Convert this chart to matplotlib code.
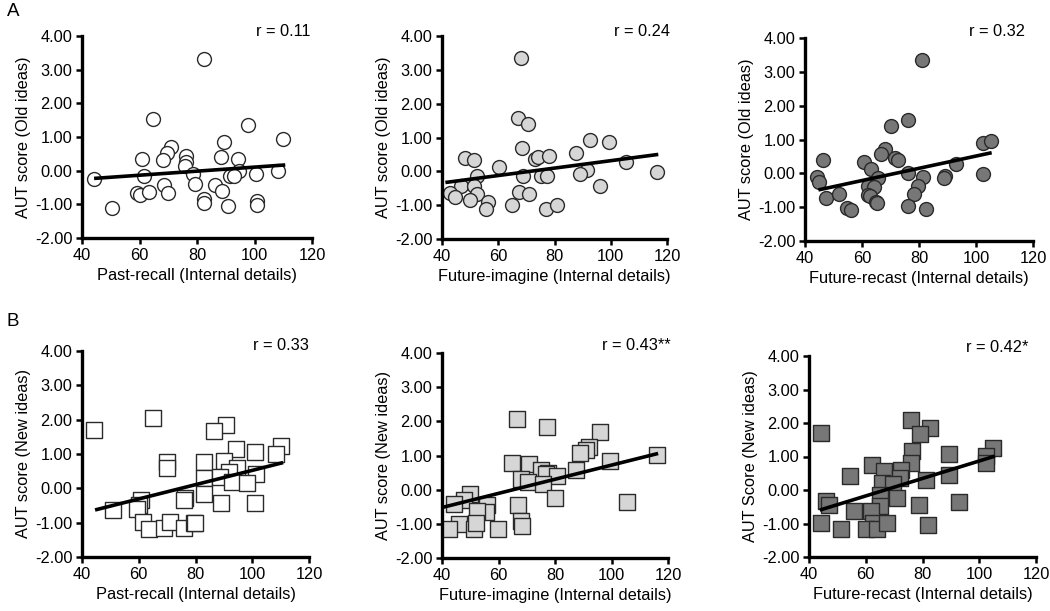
import numpy as np
import matplotlib
matplotlib.use("Agg")
import matplotlib.pyplot as plt

plt.rcParams['font.family'] = ['Liberation Sans', 'DejaVu Sans']
plt.rcParams['axes.unicode_minus'] = False

# ---- Data ----
pr_old_x = [44.2, 50.5, 82.6, 64.7, 97.7, 109.9, 89.5, 70.9, 69.7, 68.1, 60.7, 76.3, 76.0, 75.8,
            88.4, 94.4, 94.7, 61.5, 78.7, 91.5, 92.7, 100.6, 108.0, 68.6, 79.3, 86.2, 59.0, 60.1,
            63.4, 69.8, 88.7, 82.6, 82.6, 90.9, 100.8, 101.0]
pr_old_y = [-0.26, -1.10, 3.31, 1.54, 1.36, 0.93, 0.85, 0.69, 0.53, 0.33, 0.36, 0.45, 0.26, 0.14,
            0.42, 0.36, 0.00, -0.15, -0.11, -0.15, -0.15, -0.09, -0.01, -0.42, -0.41, -0.42, -0.66, -0.73,
            -0.63, -0.67, -0.61, -0.84, -0.97, -1.06, -0.89, -1.03]

fi_old_x = [68.1, 66.9, 70.5, 68.4, 92.6, 99.5, 87.5, 48.2, 51.4, 72.9, 74.3, 77.9, 60.3, 105.5,
            91.4, 116.5, 52.3, 68.7, 75.2, 77.4, 88.9, 46.6, 51.5, 96.0, 43.0, 44.6, 52.6, 50.1,
            67.3, 70.8, 56.4, 55.5, 64.9, 77.0, 80.9]
fi_old_y = [3.36, 1.58, 1.39, 0.68, 0.93, 0.88, 0.55, 0.39, 0.33, 0.37, 0.41, 0.44, 0.13, 0.27,
            0.03, -0.01, -0.13, -0.13, -0.15, -0.15, -0.08, -0.43, -0.43, -0.43, -0.64, -0.76, -0.68, -0.85,
            -0.61, -0.67, -0.92, -1.12, -1.00, -1.10, -1.00]

fr_old_x = [80.9, 76.0, 70.1, 68.1, 66.7, 102.3, 105.1, 46.2, 60.8, 63.0, 71.5, 72.7, 93.0, 76.1,
            102.6, 44.3, 44.8, 65.5, 81.5, 89.1, 88.9, 62.2, 64.3, 79.5, 47.4, 51.8, 62.2, 62.8,
            78.4, 64.9, 65.1, 54.6, 56.1, 76.1, 82.3]
fr_old_y = [3.34, 1.58, 1.39, 0.73, 0.57, 0.89, 0.95, 0.39, 0.34, 0.14, 0.46, 0.39, 0.29, 0.02,
            -0.01, -0.12, -0.27, -0.14, -0.12, -0.08, -0.13, -0.38, -0.40, -0.38, -0.73, -0.60, -0.64, -0.66,
            -0.61, -0.84, -0.89, -1.01, -1.09, -0.97, -1.06]

pr_new_x = [44.4, 65.1, 90.8, 86.4, 94.4, 100.8, 110.1, 108.2, 69.8, 69.8, 82.9, 90.0, 94.5, 91.9,
            83.1, 88.8, 101.3, 92.7, 98.1, 83.1, 76.4, 76.0, 60.8, 60.0, 59.5, 50.9, 88.9, 101.1,
            61.6, 63.5, 68.9, 70.9, 76.1, 79.4, 79.8]
pr_new_y = [1.69, 2.05, 1.84, 1.66, 1.15, 1.05, 1.24, 1.01, 0.76, 0.58, 0.76, 0.81, 0.60, 0.47,
            0.31, 0.34, 0.41, 0.17, 0.16, -0.17, -0.27, -0.35, -0.34, -0.49, -0.60, -0.64, -0.44, -0.43,
            -0.99, -1.17, -1.16, -0.97, -1.16, -1.02, -1.00]

fi_new_x = [66.7, 77.1, 95.9, 92.1, 90.8, 88.8, 116.1, 99.5, 64.8, 70.7, 74.9, 87.5, 77.4, 76.9,
            80.7, 68.1, 70.4, 75.6, 49.8, 47.8, 44.1, 79.9, 66.9, 55.9, 55.5, 52.4, 105.4, 46.1,
            42.5, 51.2, 51.9, 59.8, 68.0, 68.4]
fi_new_y = [2.07, 1.84, 1.69, 1.26, 1.17, 1.08, 1.02, 0.83, 0.77, 0.75, 0.59, 0.59, 0.49, 0.45,
            0.40, 0.31, 0.21, 0.18, -0.13, -0.30, -0.41, -0.25, -0.44, -0.44, -0.66, -0.62, -0.35, -1.00,
            -1.14, -1.14, -0.98, -1.14, -0.92, -1.06]

fr_new_x = [44.1, 75.9, 82.6, 79.2, 76.4, 76.0, 89.2, 104.9, 102.4, 102.4, 62.2, 66.4, 72.5, 72.2,
            54.4, 89.2, 81.2, 65.6, 69.6, 64.9, 71.1, 46.1, 47.1, 64.9, 92.9, 78.6, 55.9, 62.0,
            44.1, 51.4, 62.6, 60.2, 63.8, 67.5, 81.8]
fr_new_y = [1.69, 2.08, 1.84, 1.66, 1.16, 0.80, 1.07, 1.25, 1.01, 0.80, 0.75, 0.58, 0.60, 0.37,
            0.41, 0.44, 0.31, 0.21, 0.19, -0.15, -0.24, -0.34, -0.45, -0.47, -0.37, -0.46, -0.63, -0.63,
            -0.98, -1.17, -0.98, -1.17, -1.17, -0.98, -1.05]

# trend lines as drawn in the reference: x range and y at both ends
trend_x = [[44.2, 110.7], [41.2, 116.9], [44.7, 105.5], [44.6, 110.9], [40.6, 116.5], [43.8, 105.5]]
trend_y = [[-0.23, 0.17], [-0.33, 0.50], [-0.49, 0.61], [-0.63, 0.75], [-0.51, 1.06], [-0.60, 1.01]]

x_labels = ["Past-recall (Internal details)", "Future-imagine (Internal details)",
            "Future-recast (Internal details)"]
y_labels_top = ["AUT score (Old ideas)"] * 3
y_labels_bot = ["AUT score (New ideas)", "AUT score (New ideas)", "AUT Score (New ideas)"]
r_top = ["r = 0.11", "r = 0.24", "r = 0.32"]
r_bot = ["r = 0.33", "r = 0.43**", "r = 0.42*"]
y_ticks = [-2, -1, 0, 1, 2, 3, 4]
x_ticks = [40, 60, 80, 100, 120]

# ---- Layout ----
W, H = 1050, 611
fig = plt.figure(figsize=(W / 100, H / 100), dpi=100)

# pixel boxes: left, right, top, bottom
boxes = [
    (82, 312, 36, 238), (442, 667, 36, 239), (805, 1033, 38, 241),
    (82, 309, 351, 557), (442, 668, 353, 558), (809, 1036, 356, 557),
]
r_pos = [(310, 32), (670, 32), (1025, 32), (309, 345), (671, 345), (1028, 348)]
facecolors = ["white", "#d6d6d6", "#777777"]
datasets = [(pr_old_x, pr_old_y), (fi_old_x, fi_old_y), (fr_old_x, fr_old_y),
            (pr_new_x, pr_new_y), (fi_new_x, fi_new_y), (fr_new_x, fr_new_y)]

for i, (box, (xs, ys)) in enumerate(zip(boxes, datasets)):
    l, r, t, b = box
    ax = fig.add_axes([l / W, 1 - b / H, (r - l) / W, (b - t) / H])
    row, col = divmod(i, 3)
    marker = "o" if row == 0 else "s"
    ax.scatter(xs, ys, s=100 if row == 0 else 125, marker=marker, facecolor=facecolors[col],
               edgecolor="#2a2a2a", linewidth=1.0, zorder=2)
    ax.plot(trend_x[i], trend_y[i], color="black", linewidth=2.6, zorder=3,
            solid_capstyle="butt")

    ax.set_xlim(40, 120)
    ax.set_ylim(-2, 4)
    ax.set_xticks(x_ticks)
    ax.set_yticks(y_ticks)
    ax.set_yticklabels([f"{v:.2f}" for v in y_ticks])
    for s in ("top", "right"):
        ax.spines[s].set_visible(False)
    for s in ("left", "bottom"):
        ax.spines[s].set_linewidth(2.4)
    ax.tick_params(direction="out", length=4, width=1.8, labelsize=11.8, pad=3)
    ax.set_xlabel(x_labels[col], fontsize=11.8, labelpad=4)
    ax.set_ylabel((y_labels_top if row == 0 else y_labels_bot)[col], fontsize=11.8, labelpad=3)
    rx, ry = r_pos[i]
    fig.text(rx / W, 1 - ry / H, (r_top if row == 0 else r_bot)[col],
             ha="right", va="center", fontsize=11.8)
    ax.patch.set_alpha(0)

fig.text(13 / W, 1 - 12 / H, "A", fontsize=13.5, ha="center", va="center")
fig.text(13 / W, 1 - 322 / H, "B", fontsize=13.5, ha="center", va="center")

fig.savefig("out.png", dpi=100)
